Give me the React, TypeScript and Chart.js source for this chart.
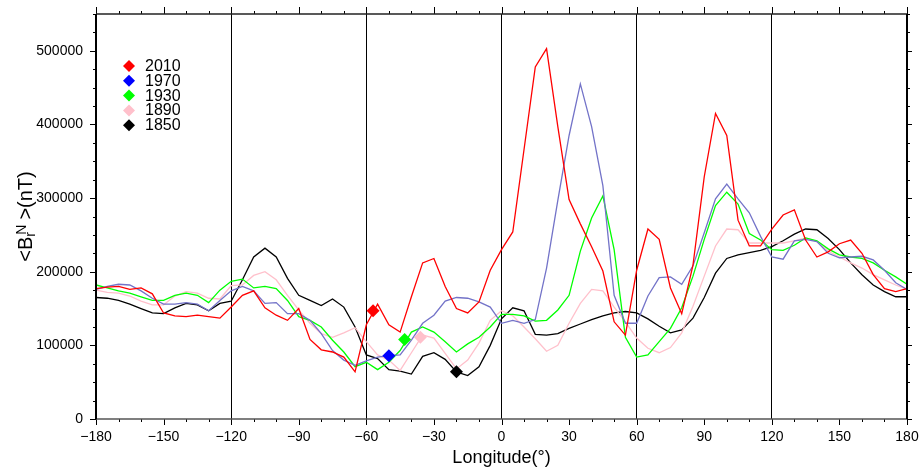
import React, { useEffect, useRef } from 'react';
import { Chart, registerables } from 'chart.js';

Chart.register(...registerables);

const longitudes = [
  -180, -175, -170, -165, -160, -155, -150, -145, -140, -135, -130, -125, -120,
  -115, -110, -105, -100, -95, -90, -85, -80, -75, -70, -65, -60,
  -55, -50, -45, -40, -35, -30, -25, -20, -15, -10, -5, 0,
  5, 10, 15, 20, 25, 30, 35, 40, 45, 50, 55, 60,
  65, 70, 75, 80, 85, 90, 95, 100, 105, 110, 115, 120,
  125, 130, 135, 140, 145, 150, 155, 160, 165, 170, 175, 180,
];

const br2010 = [
  177000, 179000, 180000, 176000, 178000, 170000, 144000, 140000, 139000, 141000, 139000, 137000, 152000,
  168000, 174000, 151000, 141000, 134000, 150000, 108000, 94000, 91000, 84000, 64000, 128000,
  156000, 128000, 118000, 166000, 212000, 218000, 180000, 150000, 144000, 159000, 202000, 230000,
  254000, 366000, 478000, 503000, 397000, 298000, 265000, 234000, 201000, 132000, 114000, 202000,
  258000, 244000, 178000, 143000, 209000, 329000, 415000, 385000, 270000, 235000, 235000, 258000,
  277000, 284000, 243000, 220000, 227000, 238000, 243000, 225000, 196000, 177000, 173000, 177000,
];

const br1970 = [
  176000, 180000, 183000, 182000, 174000, 164000, 156000, 156000, 158000, 156000, 147000, 161000, 174000,
  180000, 174000, 157000, 158000, 143000, 143000, 134000, 116000, 93000, 80000, 73000, 79000,
  84000, 86000, 87000, 107000, 130000, 141000, 160000, 165000, 164000, 159000, 152000, 130000,
  134000, 130000, 135000, 205000, 297000, 385000, 455000, 397000, 317000, 168000, 130000, 130000,
  167000, 192000, 193000, 183000, 208000, 253000, 299000, 319000, 299000, 280000, 248000, 220000,
  217000, 242000, 244000, 241000, 225000, 219000, 220000, 221000, 216000, 202000, 185000, 176000,
];

const br1930 = [
  182000, 178000, 174000, 171000, 166000, 161000, 161000, 168000, 171000, 168000, 158000, 175000, 187000,
  190000, 178000, 180000, 177000, 161000, 139000, 134000, 125000, 107000, 91000, 71000, 77000,
  67000, 77000, 93000, 118000, 125000, 118000, 105000, 91000, 102000, 111000, 125000, 142000,
  142000, 140000, 133000, 134000, 148000, 168000, 228000, 273000, 303000, 230000, 111000, 84000,
  87000, 105000, 123000, 151000, 194000, 244000, 290000, 308000, 292000, 252000, 243000, 230000,
  229000, 236000, 246000, 242000, 231000, 223000, 220000, 218000, 212000, 202000, 193000, 183000,
];

const br1890 = [
  175000, 172000, 171000, 167000, 160000, 155000, 155000, 167000, 173000, 171000, 164000, 163000, 181000,
  182000, 195000, 200000, 189000, 168000, 148000, 130000, 116000, 111000, 117000, 124000, 105000,
  87000, 80000, 66000, 90000, 114000, 110000, 89000, 68000, 80000, 103000, 134000, 147000,
  140000, 125000, 109000, 92000, 100000, 130000, 157000, 176000, 174000, 152000, 132000, 110000,
  96000, 90000, 97000, 117000, 153000, 194000, 235000, 258000, 257000, 239000, 239000, 239000,
  239000, 242000, 246000, 241000, 228000, 220000, 212000, 205000, 196000, 189000, 182000, 176000,
];

const br1850 = [
  165000, 164000, 161000, 156000, 150000, 144000, 143000, 151000, 157000, 155000, 147000, 157000, 160000,
  189000, 220000, 232000, 220000, 191000, 168000, 161000, 154000, 163000, 152000, 125000, 87000,
  82000, 67000, 65000, 61000, 85000, 90000, 81000, 64000, 59000, 71000, 100000, 136000,
  151000, 147000, 115000, 114000, 116000, 123000, 129000, 135000, 140000, 144000, 146000, 144000,
  136000, 126000, 117000, 121000, 137000, 165000, 198000, 218000, 223000, 226000, 229000, 234000,
  242000, 251000, 258000, 257000, 245000, 230000, 212000, 196000, 182000, 173000, 166000, 166000,
];

const seriesLabels = ['2010', '1970', '1930', '1890', '1850'];
const lineColors = ['#ff0000', '#7373c8', '#00ff00', '#ffc0cb', '#000000'];
const markerColors = ['#ff0000', '#0000ff', '#00ff00', '#ffc0cb', '#000000'];
const markerLon = [-57, -50, -43, -36, -20];
const markerVal = [147000, 86000, 108000, 111000, 64000];

const xTickValues = [-180, -150, -120, -90, -60, -30, 0, 30, 60, 90, 120, 150, 180];
const yTickValues = [0, 100000, 200000, 300000, 400000, 500000];
const refLines = [-120, -60, 0, 60, 120];

const FONT = '"Liberation Sans", Arial, Helvetica, sans-serif';

const decorPlugin = {
  id: 'decor',
  afterDraw(chart: any) {
    const { ctx, chartArea: a, scales } = chart;
    const xs = scales.x;
    const ys = scales.y;
    ctx.save();
    ctx.strokeStyle = '#000';
    ctx.lineWidth = 1;
    // x ticks (major every 30, minor every 10)
    for (let lon = -180; lon <= 180; lon += 10) {
      const px = Math.round(xs.getPixelForValue(lon)) + 0.5;
      const major = lon % 30 === 0;
      ctx.beginPath();
      ctx.moveTo(px, a.bottom);
      ctx.lineTo(px, a.bottom + (major ? 6 : 3));
      ctx.moveTo(px, a.top);
      ctx.lineTo(px, a.top - (major ? 7 : 3));
      ctx.stroke();
    }
    // y ticks (major every 100000, minor every 25000)
    for (let v = 0; v <= 550000; v += 25000) {
      const py = Math.round(ys.getPixelForValue(v)) + 0.5;
      const major = v % 100000 === 0;
      ctx.beginPath();
      ctx.moveTo(a.left, py);
      ctx.lineTo(a.left - (major ? 6 : 3), py);
      ctx.moveTo(a.right, py);
      ctx.lineTo(a.right + (major ? 5 : 3), py);
      ctx.stroke();
    }
    // frame
    ctx.lineWidth = 1.5;
    ctx.strokeStyle = '#222';
    ctx.beginPath();
    ctx.moveTo(a.left, a.top);
    ctx.lineTo(a.right, a.top);
    ctx.stroke();
    ctx.strokeStyle = '#555';
    ctx.beginPath();
    ctx.moveTo(a.left, a.bottom);
    ctx.lineTo(a.right, a.bottom);
    ctx.stroke();
    ctx.strokeStyle = '#000';
    ctx.lineWidth = 2;
    ctx.beginPath();
    ctx.moveTo(a.left, a.top);
    ctx.lineTo(a.left, a.bottom);
    ctx.moveTo(a.right, a.top);
    ctx.lineTo(a.right, a.bottom);
    ctx.stroke();

    // legend
    const lx = a.left + 33;
    const ly0 = a.top + 52;
    const step = 14.8;
    ctx.font = '16px ' + FONT;
    ctx.textBaseline = 'middle';
    ctx.textAlign = 'left';
    for (let i = 0; i < seriesLabels.length; i++) {
      const y = ly0 + i * step;
      ctx.fillStyle = markerColors[i];
      ctx.beginPath();
      ctx.moveTo(lx, y - 6);
      ctx.lineTo(lx + 6, y);
      ctx.lineTo(lx, y + 6);
      ctx.lineTo(lx - 6, y);
      ctx.closePath();
      ctx.fill();
      ctx.fillStyle = '#000';
      ctx.fillText(seriesLabels[i], lx + 16, y + 0.5);
    }

    // y-axis title <B_r^N>(nT)
    const big = '20px ' + FONT;
    const small = '14px ' + FONT;
    ctx.font = big;
    const w1 = ctx.measureText('<B').width;
    const w3 = ctx.measureText('>(nT)').width;
    ctx.font = small;
    const wr = ctx.measureText('r').width;
    const wn = ctx.measureText('N').width;
    const sub = Math.max(wr, wn + 2);
    const gap = 5;
    const total = w1 + sub + gap + w3;
    ctx.translate(32, (a.top + a.bottom) / 2);
    ctx.rotate(-Math.PI / 2);
    ctx.textBaseline = 'alphabetic';
    ctx.fillStyle = '#000';
    let x = -total / 2;
    ctx.font = big;
    ctx.fillText('<B', x, 0);
    x += w1;
    ctx.font = small;
    ctx.fillText('r', x, 3);
    ctx.fillText('N', x + 2, -6);
    x += sub + gap;
    ctx.font = big;
    ctx.fillText('>(nT)', x, 0);
    ctx.restore();
  },
};

export default function App() {
  const canvasRef = useRef<HTMLCanvasElement | null>(null);

  useEffect(() => {
    document.body.style.margin = '0';
    const canvas = canvasRef.current;
    if (!canvas) return;
    const series = [br2010, br1970, br1930, br1890, br1850];
    const markerSets = seriesLabels.map((lab, i) => ({
      label: lab + ' marker',
      data: [{ x: markerLon[i], y: markerVal[i] }],
      showLine: false,
      pointStyle: 'rectRot',
      pointRadius: 6.5,
      pointBackgroundColor: markerColors[i],
      pointBorderColor: markerColors[i],
      pointBorderWidth: 0,
      borderColor: markerColors[i],
      backgroundColor: markerColors[i],
    }));
    const lineSets = seriesLabels.map((lab, i) => ({
      label: lab,
      data: longitudes.map((lon, j) => ({ x: lon, y: series[i][j] })),
      borderColor: lineColors[i],
      backgroundColor: lineColors[i],
      borderWidth: 1.3,
      pointRadius: 0,
      tension: 0,
      fill: false,
    }));

    const chart = new Chart(canvas, {
      type: 'line',
      data: { datasets: [...markerSets, ...lineSets] as any },
      options: {
        animation: false,
        responsive: false,
        maintainAspectRatio: false,
        events: [],
        layout: { padding: { top: 14, right: 14, left: 0, bottom: 0 } },
        plugins: {
          legend: { display: false },
          tooltip: { enabled: false },
        },
        scales: {
          x: {
            type: 'linear',
            min: -180,
            max: 180,
            afterBuildTicks: (scale: any) => {
              scale.ticks = xTickValues.map((v) => ({ value: v }));
            },
            afterFit: (scale: any) => {
              scale.height = 53;
              scale.paddingLeft = 0;
              scale.paddingRight = 0;
            },
            ticks: {
              autoSkip: false,
              maxRotation: 0,
              padding: 10,
              color: '#000',
              font: { family: FONT, size: 14 },
              callback: (v: any) => String(v).replace('-', '\u2212'),
            },
            grid: {
              drawTicks: false,
              lineWidth: 1,
              color: (ctx: any) =>
                ctx.tick && refLines.includes(ctx.tick.value) ? '#000' : 'rgba(0,0,0,0)',
            },
            border: { display: false },
            title: {
              display: true,
              text: 'Longitude(\u00b0)',
              color: '#000',
              font: { family: FONT, size: 18 },
              padding: { top: 0, bottom: 3 },
            },
          },
          y: {
            type: 'linear',
            min: 0,
            max: 550000,
            afterBuildTicks: (scale: any) => {
              scale.ticks = yTickValues.map((v) => ({ value: v }));
            },
            afterFit: (scale: any) => {
              scale.width = 96;
              scale.paddingTop = 0;
              scale.paddingBottom = 0;
            },
            ticks: {
              padding: 13,
              color: '#000',
              font: { family: FONT, size: 14 },
              callback: (v: any) => String(v),
            },
            grid: { display: false, drawTicks: false },
            border: { display: false },
          },
        },
      },
      plugins: [decorPlugin],
    });
    return () => chart.destroy();
  }, []);

  return (
    <div style={{ width: 921, height: 472 }}>
      <canvas ref={canvasRef} width={921} height={472} style={{ display: 'block' }} />
    </div>
  );
}
